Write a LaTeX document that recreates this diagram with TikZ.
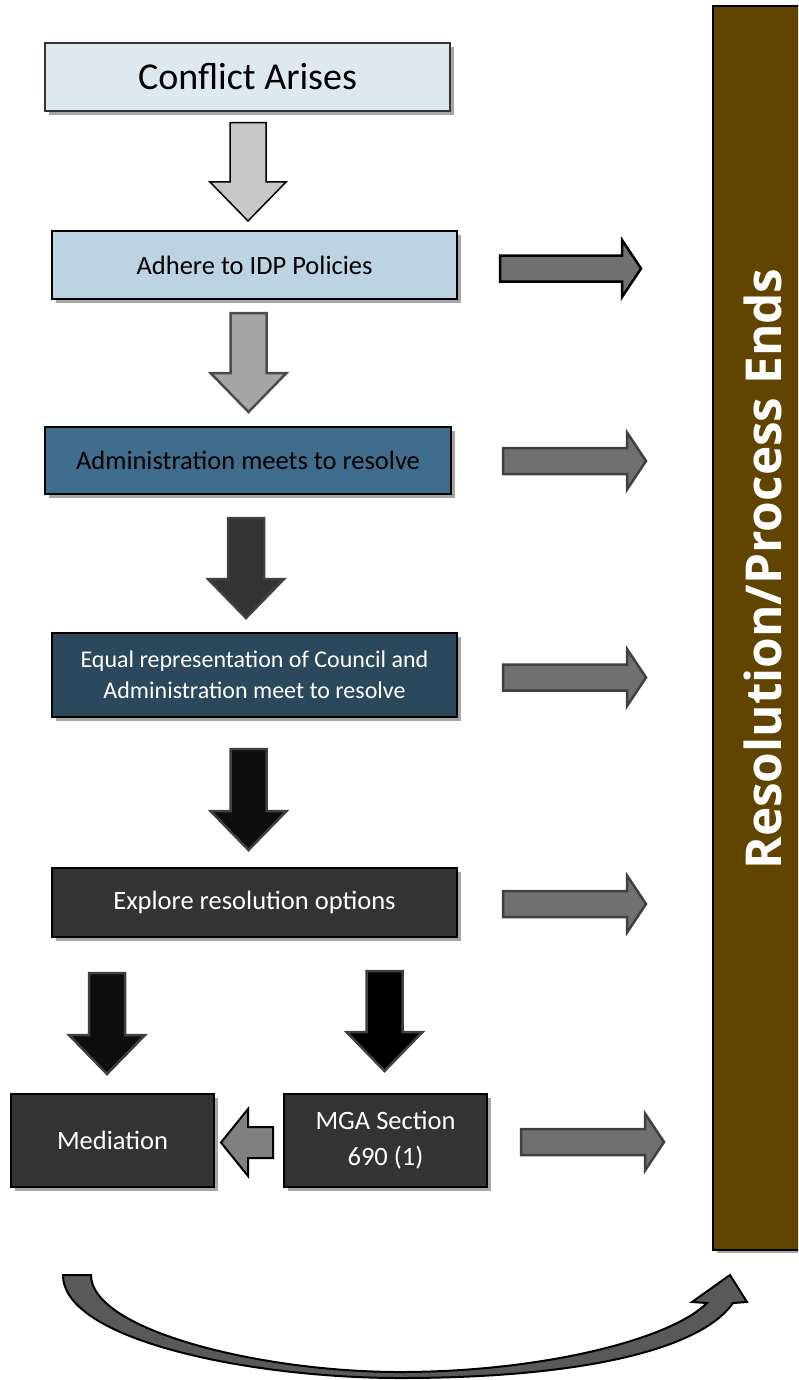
\documentclass[tikz,border=0pt]{standalone}
\usepackage{fontspec}
\setmainfont{Carlito}
\newfontfamily\barfont{Open Sans}
\usetikzlibrary{calc,shadows}
\definecolor{conflictfill}{HTML}{DEE8EF}
\definecolor{adherefill}{HTML}{BCD3E2}
\definecolor{adminfill}{HTML}{416D8C}
\definecolor{equalfill}{HTML}{2B485C}
\definecolor{darkfill}{HTML}{333333}
\definecolor{barfill}{HTML}{614400}
\definecolor{edgegray}{HTML}{404040}
\newcommand{\blockdown}[3]{\filldraw[#1] let \p1=#2, \p2=#3 in
    (\x1-18pt,\y1) -- (\x1+18pt,\y1) -- (\x1+18pt,\y2+39pt) -- (\x1+38pt,\y2+39pt)
    -- (\x1,\y2) -- (\x1-38pt,\y2+39pt) -- (\x1-18pt,\y2+39pt) -- cycle;}
\newcommand{\blockright}[3]{\filldraw[#1] let \p1=#2, \p2=#3 in
    (\x1,\y1+13pt) -- (\x2-19pt,\y1+13pt) -- (\x2-19pt,\y1+28.5pt) -- (\x2,\y1)
    -- (\x2-19pt,\y1-28.5pt) -- (\x2-19pt,\y1-13pt) -- (\x1,\y1-13pt) -- cycle;}
\tikzset{
    box/.style={draw=black,line width=2pt,minimum width=405pt,minimum height=68pt,inner sep=0pt,align=center,
        font=\fontsize{26.5}{31}\selectfont,
        drop shadow={shadow xshift=4pt,shadow yshift=-4pt,fill=black!35,opacity=1}},
    darkbox/.style={box,fill=darkfill,text=white},
    rightarr/.style={fill=black!56,draw=edgegray,line width=2.5pt},
}

\begin{document}
\begin{tikzpicture}[x=1pt,y=-1pt]
                    \useasboundingbox (0,0) rectangle (798,1380);
                    \clip (0,0) rectangle (798,1380);
                    \node[box,fill=conflictfill,draw=black!80,line width=1.5pt,font=\fontsize{38}{44}\selectfont] (conflict) at (247.5,77) {Conflict Arises};
                    \node[box,fill=adherefill] (adhere) at (254.5,265) {Adhere to IDP Policies};
                    \node[box,fill=adminfill,minimum width=406pt,minimum height=67pt] (admin) at (248,460.5) {Administration meets to resolve};
                    \node[box,fill=equalfill,text=white,minimum height=84pt,font=\fontsize{24}{31}\selectfont] (equal) at (254.5,675) {Equal representation of Council and\\Administration meet to resolve};
                    \node[darkbox,minimum height=69pt] (explore) at (254.5,902.5) {Explore resolution options};
                    \node[darkbox,minimum width=203pt,minimum height=93pt] (mediation) at (112.5,1140.5) {Mediation};
                    \node[darkbox,minimum width=203pt,minimum height=93pt,font=\fontsize{26.5}{36}\selectfont] (mga) at (385.5,1140.5) {MGA Section\\690 (1)};
                    \node[draw=black,line width=2pt,fill=barfill,minimum width=180pt,minimum height=1244pt,
                        drop shadow={shadow xshift=4pt,shadow yshift=-3pt,fill=black!35,opacity=1}] (bar) at (803,628) {};
                    \node[rotate=90,anchor=base,text=white,font=\barfont\bfseries\fontsize{49.5}{56}\selectfont] (ends) at (781,569) {Resolution/Process Ends};
                    \blockdown{fill=black!22,draw=black,line width=1.5pt}{($(conflict.south)+(0.5,11)$)}{($(adhere.north)+(0,-9)$)}
                    \blockdown{fill=black!35,draw=black!70,line width=2.5pt}{($(adhere.south)+(-6,13)$)}{($(admin.north)+(0,-14)$)}
                    \blockdown{fill=darkfill,draw=edgegray,line width=2.5pt}{($(admin.south)+(-2,23)$)}{($(equal.north)+(0,-14)$)}
                    \blockdown{fill=black!95,draw=edgegray,line width=2.5pt}{($(equal.south)+(-6,31)$)}{($(explore.north)+(0,-17)$)}
                    \blockdown{fill=black!95,draw=edgegray,line width=2.5pt}{($(explore.south -| mediation.north)+(-5.5,35)$)}{($(mediation.north)+(0,-19)$)}
                    \blockdown{fill=black,draw=edgegray,line width=2.5pt}{($(explore.south -| mga.north)+(-1,33)$)}{($(mga.north)+(0,-22)$)}
                    \blockright{rightarr,draw=black}{($(adhere.east)+(42,3.5)$)}{($(adhere.east)+(183,3.5)$)}
                    \foreach \b/\dx/\dy in {admin/51/0.5,equal/45/2.5,explore/45/1.5,mga/33/1.5}{
                    \blockright{rightarr}{($(\b.east)+(\dx,\dy)$)}{($(\b.east)+(\dx+143,\dy)$)}
                    }
                    \filldraw[fill=black!50,draw=black,line width=2pt] let \p1=($(mga.west)+(-10,2)$), \p2=($(mediation.east)+(6,2)$) in
                        (\x1,\y1+15.5pt) -- (\x2+27pt,\y1+15.5pt) -- (\x2+27pt,\y1+33.5pt) -- (\x2,\y1)
                        -- (\x2+27pt,\y1-33.5pt) -- (\x2+27pt,\y1-15.5pt) -- (\x1,\y1-15.5pt) -- cycle;
                    \coordinate (loopstart) at (63,1275);
                    \coordinate (looptip) at (730,1275);
                    \filldraw[fill=black!65,draw=black,line width=2pt] (loopstart) -- ++(28,0)
                        .. controls (91,1330) and (260,1372) .. (400,1372)
                        .. controls (540,1372) and (670,1340) .. (707,1303)
                        -- (692,1302) -- (looptip) -- (747,1302) -- (733,1303)
                        .. controls (700,1350) and (580,1378) .. (400,1378)
                        .. controls (250,1378) and (63,1340) .. (loopstart) -- cycle;
                    \end{tikzpicture}
\end{document}
